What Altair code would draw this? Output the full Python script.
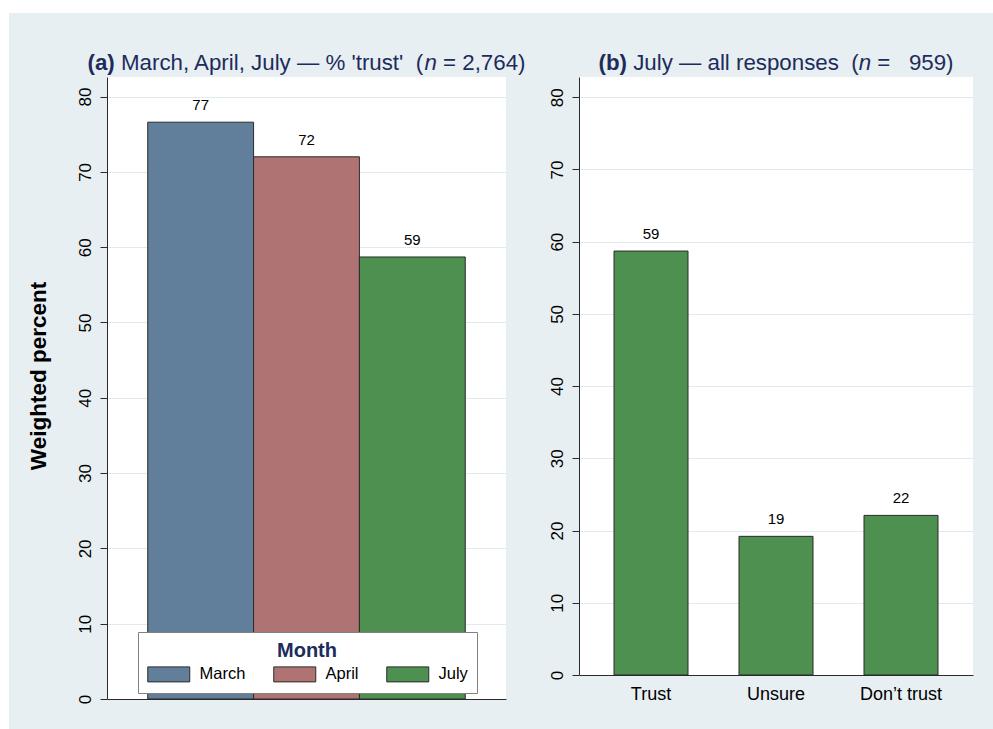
import altair as alt
import pandas as pd

# ---- data -------------------------------------------------------------
months = ["March", "April", "July"]
trust_pct = [76.6, 72.0, 58.7]
month_colors = ["#617f9a", "#b07374", "#4e904f"]

responses = ["Trust", "Unsure", "Don\u2019t trust"]
july_pct = [58.7, 19.2, 22.1]

y_ticks = [0, 10, 20, 30, 40, 50, 60, 70, 80]
n_spring = 2764
n_july = 959

# ---- style ------------------------------------------------------------
FONT = "Liberation Sans"
NAVY = "#1d2c5b"
BG = "#e8eff2"
GRID = "#e1eaee"
EDGE = "#2b2b2b"

CANVAS_W, CANVAS_H = 993, 729
ORIGIN_X, ORIGIN_Y = 107, 77       # top-left of the first plot area
MARGIN_LEFT, MARGIN_TOP = 9, 13    # white frame around the grey background
W1, H1 = 399, 622
W2, H2 = 394, 598
GAP = 73
TITLE_SIZE = 22.3

# Arial / Liberation Sans advance widths (1/1000 em), used to lay out
# panel titles that mix bold, regular and italic runs.
REG = {" ": 278, "\u00a0": 278, "(": 333, ")": 333, "'": 191, ",": 278,
       "=": 584, "%": 889, "\u2014": 1000, "A": 667, "J": 500, "M": 833,
       "a": 556, "c": 500, "e": 556, "h": 556, "i": 222, "l": 222,
       "n": 556, "o": 556, "p": 556, "r": 333, "s": 500, "t": 278,
       "u": 556, "y": 500}
BOLD = {"(": 333, ")": 333, "a": 556, "b": 611}


def text_width(s, weight, size):
    table = BOLD if weight == "bold" else REG
    return sum(table.get(c, 556) for c in s) * size / 1000.0


def title_layers(pieces, panel_width, size=TITLE_SIZE, baseline=-7):
    total = sum(text_width(t, w, size) for t, w, _ in pieces)
    cursor = panel_width / 2 - total / 2
    layers = []
    for text, weight, style in pieces:
        lead = len(text) - len(text.lstrip(" "))
        shown = text.strip(" ").replace("  ", " \u00a0")
        x = cursor + text_width(" " * lead, "normal", size)
        layers.append(
            alt.Chart(pd.DataFrame({"t": [shown]}))
            .mark_text(align="left", baseline="alphabetic", fontSize=size,
                       fontWeight=weight, fontStyle=style, color=NAVY, font=FONT)
            .encode(text="t:N", x=alt.value(x), y=alt.value(baseline))
        )
        cursor += text_width(text, weight, size)
    return layers


def y_axis(title=None):
    kw = dict(values=y_ticks, grid=True, gridColor=GRID, gridWidth=1,
              tickSize=7, tickColor=EDGE, tickWidth=1, domainColor=EDGE,
              domainWidth=1, labelAngle=270, labelAlign="center",
              labelBaseline="bottom", labelPadding=6, labelFontSize=17,
              labelColor="black", minExtent=31, maxExtent=31)
    if title:
        kw.update(title=title, titleFontSize=22.5, titleFontWeight="bold",
                  titleColor="black", titlePadding=26, titleY=298.5)
    else:
        kw.update(title=None)
    return alt.Axis(**kw)


# ---- white frame strips (top and left edge of the canvas) --------------
frame = pd.DataFrame({"k": [0]})
strip_top = alt.Chart(frame).mark_rect(color="white").encode(
    x=alt.value(-ORIGIN_X), x2=alt.value(CANVAS_W - ORIGIN_X),
    y=alt.value(-ORIGIN_Y), y2=alt.value(MARGIN_TOP - ORIGIN_Y))
strip_left = alt.Chart(frame).mark_rect(color="white").encode(
    x=alt.value(-ORIGIN_X), x2=alt.value(MARGIN_LEFT - ORIGIN_X),
    y=alt.value(-ORIGIN_Y), y2=alt.value(CANVAS_H - ORIGIN_Y))

# ---- panel (a): % trust by month ---------------------------------------
left_df = pd.DataFrame({"Month": months, "pct": trust_pct})

x_left = alt.X("Month:N", sort=months,
               scale=alt.Scale(paddingInner=0, paddingOuter=0.385),
               axis=alt.Axis(labels=False, ticks=False, title=None,
                             domainColor=EDGE, domainWidth=1))
y_left = alt.Y("pct:Q", scale=alt.Scale(domain=[0, 82.6], nice=False),
               axis=y_axis("Weighted percent"))

# legend swatch: a 42x15 box; the row height follows sqrt(symbolSize) = 15
SWATCH = "M-1,-1L4.6,-1L4.6,1L-1,1Z"

bars_left = alt.Chart(left_df).mark_bar(stroke=EDGE, strokeWidth=1, opacity=1).encode(
    x=x_left, y=y_left,
    color=alt.Color(
        "Month:N", sort=months,
        scale=alt.Scale(domain=months, range=month_colors),
        legend=alt.Legend(
            orient="none", legendX=31, legendY=555, direction="horizontal",
            columns=3, title="Month", titleAnchor="middle", titleFontSize=20,
            titleFontWeight="bold", titleColor=NAVY, titlePadding=5,
            labelFontSize=16.5, labelColor="black", labelOffset=36,
            columnPadding=25, symbolType=SWATCH,
            symbolSize=225, symbolStrokeColor=EDGE, symbolStrokeWidth=1,
            symbolOpacity=1, padding=9, fillColor="white",
            strokeColor="#808080")),
)
labels_left = alt.Chart(left_df).mark_text(
    baseline="alphabetic", dy=-12, fontSize=15, color="black", font=FONT
).encode(x=x_left, y=y_left, text=alt.Text("pct:Q", format=".0f"))

title_a = title_layers([
    ("(a)", "bold", "normal"),
    (" March, April, July \u2014 % 'trust'  (", "normal", "normal"),
    ("n", "normal", "italic"),
    (f" = {n_spring:,})", "normal", "normal"),
], W1)

left = alt.layer(strip_top, strip_left, bars_left, labels_left, *title_a).properties(
    width=W1, height=H1)

# ---- panel (b): all July responses -------------------------------------
right_df = pd.DataFrame({"Response": responses, "pct": july_pct})

x_right = alt.X("Response:N", sort=responses,
                scale=alt.Scale(paddingInner=0.408, paddingOuter=0.28),
                axis=alt.Axis(title=None, ticks=False, labelAngle=0,
                              labelFontSize=18, labelColor="black",
                              labelPadding=10, domainColor=EDGE, domainWidth=1))
y_right = alt.Y("pct:Q", scale=alt.Scale(domain=[0, 82.8], nice=False),
                axis=y_axis())

bars_right = alt.Chart(right_df).mark_bar(
    color=month_colors[2], stroke=EDGE, strokeWidth=1, opacity=1
).encode(x=x_right, y=y_right)
labels_right = alt.Chart(right_df).mark_text(
    baseline="alphabetic", dy=-12, fontSize=15, color="black", font=FONT
).encode(x=x_right, y=y_right, text=alt.Text("pct:Q", format=".0f"))

title_b = title_layers([
    ("(b)", "bold", "normal"),
    (" July \u2014 all responses  (", "normal", "normal"),
    ("n", "normal", "italic"),
    (f" = {n_july:>5,})", "normal", "normal"),
], W2)

right = alt.layer(bars_right, labels_right, *title_b).properties(width=W2, height=H2)

chart = (
    alt.hconcat(left, right, spacing=GAP, bounds="flush", padding=0, background=BG)
    .configure(font=FONT)
    .configure_view(fill="white", stroke="transparent", strokeWidth=0)
)

chart.save("out.html", embed_options={"renderer": "svg", "actions": False})
